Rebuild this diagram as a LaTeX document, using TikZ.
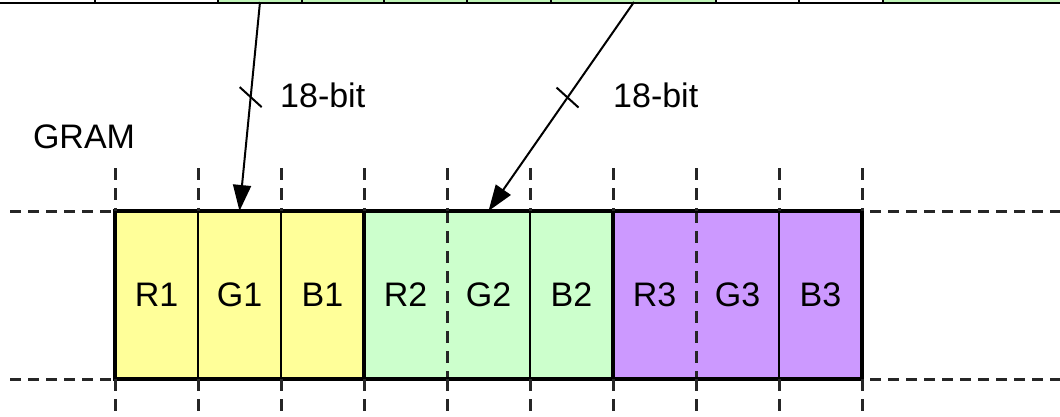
\documentclass[tikz,border=0pt]{standalone}
\usepackage{fontspec}
\setmainfont{Liberation Sans}
\usetikzlibrary{arrows.meta,positioning}

\definecolor{gramyellow}{HTML}{FFFF99}
\definecolor{gramgreen}{HTML}{CCFFCC}
\definecolor{grampurple}{HTML}{CC99FF}
\definecolor{stripgreen}{HTML}{C0F5B8}

\tikzset{
  cell/.style={minimum width=83pt, minimum height=168pt, inner sep=0pt, outer sep=0pt,
    font=\fontsize{34}{40}\selectfont},
  label/.style={inner sep=0pt, font=\fontsize{34}{40}\selectfont},
  guide/.style={line width=3pt, dash pattern=on 12pt off 8pt, black!85},
  hguide/.style={line width=3pt, dash pattern=on 11pt off 7pt, black!85},
  sep/.style={line width=2pt},
  bus/.style={line width=2pt, -{Triangle[length=26pt,width=18pt]}},
}

\begin{document}
\begin{tikzpicture}[x=1pt,y=-1pt]
    \useasboundingbox (0,0) rectangle (1060,416);

    % Franja superior (cortada por el borde)
    \fill[stripgreen] (218,0) rectangle (716,3);
    \fill[stripgreen] (883,0) rectangle (1060,3);
    \draw[line width=2.5pt] (0,3) -- (1060,3);
    \draw[line width=2pt] (95,0) -- (95,3) (218,0) -- (218,3) (302,0) -- (302,3)
      (384,0) -- (384,3) (467,0) -- (467,3) (551,0) -- (551,3) (716,0) -- (716,3)
      (799,0) -- (799,3) (883,0) -- (883,3);

    % Celdas de la GRAM
    \node[cell, fill=gramyellow] (r1) at (156.5,295) {R1};
    \node[cell, fill=gramyellow, right=0pt of r1] (g1) {G1};
    \node[cell, fill=gramyellow, right=0pt of g1] (b1) {B1};
    \node[cell, fill=gramgreen, right=0pt of b1] (r2) {R2};
    \node[cell, fill=gramgreen, right=0pt of r2] (g2) {G2};
    \node[cell, fill=gramgreen, right=0pt of g2] (b2) {B2};
    \node[cell, fill=grampurple, right=0pt of b2] (r3) {R3};
    \node[cell, fill=grampurple, right=0pt of r3] (g3) {G3};
    \node[cell, fill=grampurple, right=0pt of g3] (b3) {B3};

    % Etiqueta de la GRAM
    \node[label] (gram) at (84,137) {GRAM};

    % Separaciones entre celdas
    \draw[sep] (g1.north west) -- (g1.south west);
    \draw[sep] (b1.north west) -- (b1.south west);
    \draw[sep] (b2.north west) -- (b2.south west);
    \draw[sep] (b3.north west) -- (b3.south west);
    \draw[line width=3.5pt] (r2.north west) -- (r2.south west);
    \draw[line width=3.5pt] (r3.north west) -- (r3.south west);
    \draw[guide] (g2.north west) -- (g2.south west);
    \draw[guide] (g3.north west) -- (g3.south west);

    % Borde de la GRAM
    \draw[line width=3.5pt] (r1.north west) rectangle (b3.south east);

    % Guias verticales discontinuas
    \foreach \c in {r1,g1,b1,r2,g2,b2,r3,g3,b3} {
      \draw[guide] ([yshift=43pt]\c.north west) -- (\c.north west);
      \draw[guide] (\c.south west) -- ([yshift=-37pt]\c.south west);
    }
    \draw[guide] ([yshift=43pt]b3.north east) -- (b3.north east);
    \draw[guide] (b3.south east) -- ([yshift=-37pt]b3.south east);

    % Guias horizontales discontinuas
    \coordinate (lefttop) at (10,211);
    \coordinate (leftbot) at (10,379);
    \coordinate (righttop) at (1060,211);
    \coordinate (rightbot) at (1060,379);
    \draw[hguide] (lefttop) -- (r1.north west);
    \draw[hguide] (leftbot) -- (r1.south west);
    \draw[hguide] ([xshift=8pt]b3.north east) -- (righttop);
    \draw[hguide] ([xshift=8pt]b3.south east) -- (rightbot);

    % Buses de 18 bits
    \coordinate (in1) at (260,2);
    \coordinate (in2) at (634,2);
    \draw[bus] (in1) -- coordinate[pos=0.455] (cut1) (g1.north);
    \draw[bus] (in2) -- coordinate[pos=0.457] (cut2) (g2.north);
    \draw[sep] (cut1) ++(-11,-10) -- ++(22,20);
    \draw[sep] (cut2) ++(-11,-10) -- ++(22,20);
    \node[label, anchor=west] (bits1) at (280,95) {18-bit};
    \node[label, anchor=west] (bits2) at (613,95) {18-bit};

  \end{tikzpicture}
\end{document}
